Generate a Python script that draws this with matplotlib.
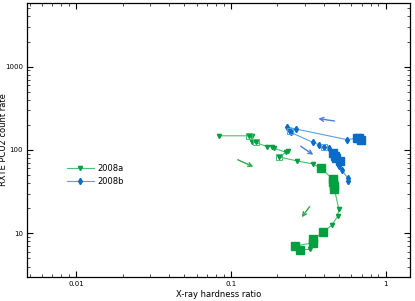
import matplotlib
matplotlib.use("Agg")
import matplotlib.pyplot as plt
from matplotlib.lines import Line2D
import numpy as np

# ---- data ----
green_x = [0.0833, 0.131, 0.136, 0.136, 0.145, 0.171, 0.185, 0.190, 0.226, 0.234,
           0.206, 0.266, 0.341, 0.384, 0.455, 0.460, 0.465, 0.467, 0.499, 0.490,
           0.448, 0.394, 0.341, 0.341, 0.260, 0.280, 0.324]
green_y = [148, 148, 148, 123, 123, 110, 110, 105, 94, 98,
           82.5, 74, 68, 60, 45, 41, 37, 34, 19.4, 16.0,
           12.5, 10.3, 8.5, 7.7, 7.06, 6.33, 6.44]
green_kind = ['t', 'o', 't', 't', 'o', 't', 't', 't', 't', 't',
              'o', 't', 't', 'f', 'f', 'f', 'f', 'f', 't', 't',
              't', 'f', 'f', 'f', 'f', 'f', 't']

blue_x = [0.690, 0.670, 0.650, 0.565, 0.265, 0.229, 0.241, 0.243, 0.341, 0.374,
          0.399, 0.430, 0.460, 0.470, 0.480, 0.505, 0.499, 0.520, 0.570, 0.572]
blue_y = [130, 140, 138, 133, 178, 190, 170, 163, 123, 115,
          108.6, 105, 92, 85, 80, 73, 64, 58, 46, 42]
blue_kind = ['f', 'f', 'f', 't', 't', 't', 'o', 't', 't', 't',
             'o', 't', 'f', 'f', 'f', 'f', 't', 't', 't', 't']

# arrows: (x_from, y_from, x_to, y_to)
blue_arrows = [(0.487, 220, 0.353, 241), (0.273, 116, 0.353, 84)]
green_arrows = [(0.1066, 78.8, 0.145, 61), (0.331, 22.2, 0.280, 14.7)]

legend_labels = ['2008a', '2008b']
x_ticks = [0.01, 0.1, 1]
x_ticklabels = ['0.01', '0.1', '1']
y_ticks = [10, 100, 1000]
y_ticklabels = ['10', '100', '1000']

# ---- style ----
g_line = '#4cbf72'
g_mark = '#00a040'
b_line = '#5aa0e0'
b_mark = '#0a6cc8'

fig = plt.figure(figsize=(4.15, 3.01), dpi=100)
ax = fig.add_axes([0.065, 0.080, 0.923, 0.910])
ax.set_xscale('log')
ax.set_yscale('log')
ax.set_xlim(0.0048, 1.44)
ax.set_ylim(3.0, 5800)


def draw(xs, ys, kinds, lc, mc, tmark):
    xs = np.array(xs); ys = np.array(ys); kinds = np.array(kinds)
    ax.plot(xs, ys, '-', color=lc, lw=0.8, zorder=2)
    m = kinds != 'f'
    ax.plot(xs[m], ys[m], linestyle='none', marker=tmark, ms=3.0 if tmark == 'v' else 3.2,
            color=mc, mec=mc, zorder=3)
    if tmark == 'd':
        ax.errorbar(xs[m], ys[m], yerr=0.05 * ys[m], fmt='none', ecolor=mc, elinewidth=0.8, zorder=3)
    o = kinds == 'o'
    ax.plot(xs[o], ys[o], linestyle='none', marker='s', ms=4.5, mfc='none', mec=lc, mew=0.7, zorder=3)
    f = kinds == 'f'
    ax.plot(xs[f], ys[f], linestyle='none', marker='s', ms=5.2, color=mc, mec=mc, zorder=4)


draw(green_x, green_y, green_kind, g_line, g_mark, 'v')
draw(blue_x, blue_y, blue_kind, b_line, b_mark, 'd')

for (x0, y0, x1, y1) in blue_arrows:
    ax.annotate('', xy=(x1, y1), xytext=(x0, y0),
                arrowprops=dict(arrowstyle='->', color='#4a7fd6', lw=1.0, mutation_scale=7))
for (x0, y0, x1, y1) in green_arrows:
    ax.annotate('', xy=(x1, y1), xytext=(x0, y0),
                arrowprops=dict(arrowstyle='->', color='#30a848', lw=1.0, mutation_scale=7))

ax.set_xticks(x_ticks)
ax.set_xticklabels(x_ticklabels)
ax.set_yticks(y_ticks)
ax.set_yticklabels(y_ticklabels)
ax.tick_params(which='both', direction='in', top=True, right=True, labelsize=5, pad=3)
ax.tick_params(which='major', length=4, width=0.8)
ax.tick_params(which='minor', length=2, width=0.5)
for s in ax.spines.values():
    s.set_linewidth(0.9)
ax.set_xlabel('X-ray hardness ratio', fontsize=6, labelpad=2)
ax.set_ylabel('RXTE PCU2 count rate', fontsize=6)
ax.yaxis.set_label_coords(-0.05, 0.5)

handles = [Line2D([0], [0], color=g_line, lw=0.8, marker='v', ms=3.0, mfc=g_mark, mec=g_mark),
           Line2D([0], [0], color=b_line, lw=0.8, marker='d', ms=3.2, mfc=b_mark, mec=b_mark)]
ax.legend(handles, legend_labels, loc='upper left', bbox_to_anchor=(0.085, 0.44),
          frameon=False, fontsize=6, handlelength=3.2, handletextpad=0.4, labelspacing=0.5)

fig.savefig('out.png', dpi=100)
